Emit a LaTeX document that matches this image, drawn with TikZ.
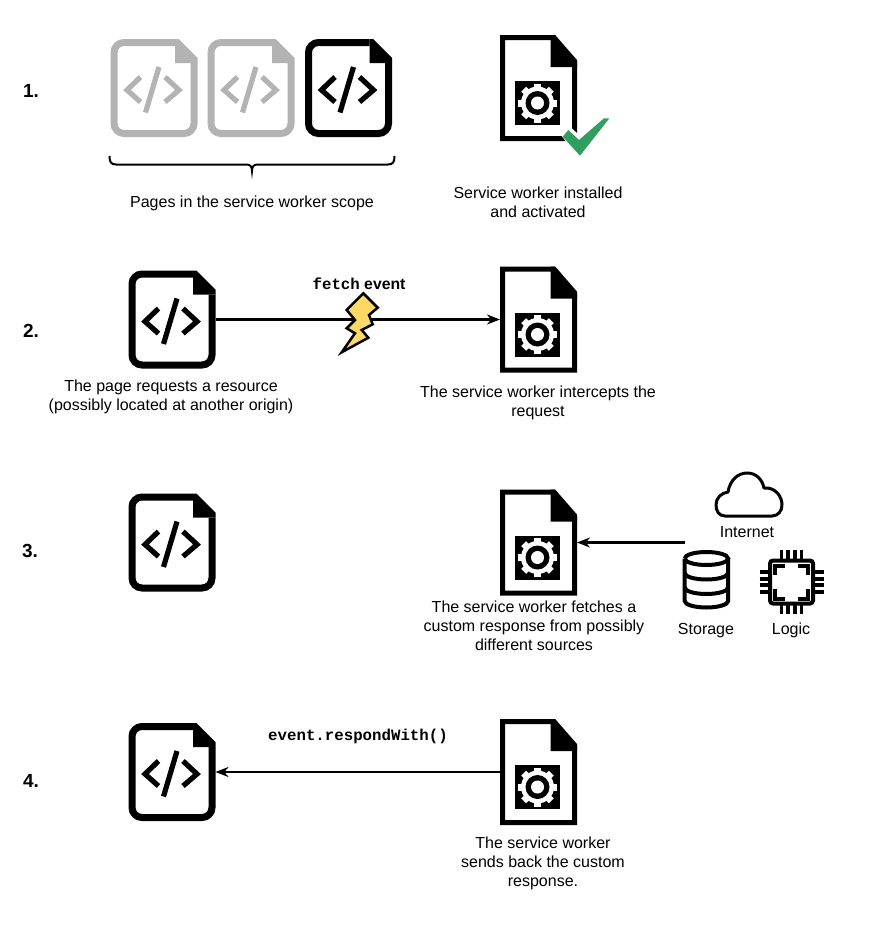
\documentclass[tikz,border=0pt]{standalone}
\usepackage{fontspec}
\setmainfont{Liberation Sans}
\setmonofont{Liberation Mono}
\usetikzlibrary{arrows.meta}
\definecolor{fadegray}{HTML}{B3B3B3}
\definecolor{checkgreen}{HTML}{2F9E5F}
\definecolor{boltyellow}{HTML}{FFD966}
\tikzset{
  caption/.style={align=center,inner sep=0pt,font=\fontsize{16}{19}\selectfont},
  stepnum/.style={inner sep=0pt,font=\bfseries\fontsize{19}{21}\selectfont},
  codetext/.style={inner sep=0pt,font=\bfseries\fontsize{15.75}{18}\selectfont},
  pagebox/.style={minimum width=87pt,minimum height=98pt,inner sep=0pt,outer sep=0pt},
  workerbox/.style={minimum width=77pt,minimum height=106pt,inner sep=0pt,outer sep=0pt},
  flow/.style={line width=2.2pt,-{Stealth[length=13pt,width=10pt]}},
  codepage/.pic={
    \draw[#1,line width=7pt,rounded corners=10pt] (21,-45.5)--(-40,-45.5)--(-40,45.5)--(40,45.5)--(40,-25);
    \fill[#1] (21,-49)--(24.5,-49)--(43.5,-30)--(43.5,-25)--(21,-25)--cycle;
    \draw[#1,line width=5.2pt] (-13.5,-11)--(-27,2)--(-13.5,14) (11,-11)--(25,2)--(11,14);
    \draw[#1,line width=5.2pt] (5,-21)--(-8.5,24.5);
  },
  workerpage/.pic={
    \draw[line width=5pt] (15.5,-50.5)--(-36,-50.5)--(-36,50.5)--(36,50.5)--(36,-27)--cycle;
    \fill (12,-53)--(16,-53)--(38.5,-26)--(38.5,-21)--(12,-21)--cycle;
    \fill (-23.5,-7) rectangle (21.5,37);
    \foreach \a in {0,45,...,315}
      \fill[white,shift={(-1,15)},rotate=\a] (-3.5,-19.5) rectangle (3.5,0);
    \fill[white] (-1,15) circle[radius=16.5pt];
    \fill (-1,15) circle[radius=12pt];
    \fill[white] (-1,15) circle[radius=6.5pt];
  }
}
\begin{document}
\begin{tikzpicture}[x=1pt,y=-1pt]
\path[use as bounding box] (0,0) rectangle (878,929);

% step 1
\node[stepnum] (num1) at (31,91) {1.};
\node[pagebox] (page1a) at (154,88) {};
\node[pagebox] (page1b) at (251,88) {};
\node[pagebox] (page1c) at (348.5,88) {};
\pic at (page1a) {codepage=fadegray};
\pic at (page1b) {codepage=fadegray};
\pic at (page1c) {codepage=black};
\draw[line width=2pt] (109.5,156) .. controls (109.5,162) and (111,164.5) .. (116,164.5) -- (246,164.5) .. controls (250,164.5) and (252,166) .. (252,171) .. controls (252,166) and (254,164.5) .. (258,164.5) -- (388,164.5) .. controls (393,164.5) and (394.5,162) .. (394.5,156);
\node[caption] (scopetext) at (252,203) {Pages in the service worker scope};
\node[workerbox] (worker1) at (538.5,88) {};
\pic at (worker1) {workerpage};
\fill[white] (560,134)--(568.3,125)--(579,135)--(604,113)--(612,116)--(580,159)--cycle;
\fill[checkgreen] (562.7,136.7)--(568.3,130)--(579,140)--(604,118.3)--(609.3,118.3)--(580,155.7)--cycle;
\node[caption] (installtext) at (538,202) {Service worker installed\\and activated};

% step 2
\node[stepnum] (num2) at (31,331) {2.};
\node[pagebox] (page2) at (172,319.5) {};
\pic at (page2) {codepage=black};
\node[workerbox] (worker2) at (538.5,319.5) {};
\pic at (worker2) {workerpage};
\draw[flow] (page2.east)--(worker2.west);
\draw[fill=boltyellow,line width=2.5pt,line join=miter] (363.3,293.3)--(377.7,307.7)--(369,315)--(372.7,324.3)--(361.7,330)--(368.3,337.7)--(341.7,352.3)--(355,333.3)--(346.7,328.3)--(355,320)--(346.7,310)--cycle;
\node[codetext] (fetchtext) at (359,284) {{\ttfamily fetch} event};
\node[caption] (requesttext) at (171,397) {The page requests a resource\\(possibly located at another origin)};
\node[caption] (intercepttext) at (538,403) {The service worker intercepts the\\request};

% step 3
\node[stepnum] (num3) at (30,551) {3.};
\node[pagebox] (page3) at (172,542.5) {};
\pic at (page3) {codepage=black};
\node[workerbox] (worker3) at (538.5,542.5) {};
\pic at (worker3) {workerpage};
\coordinate (source3) at (685,542.5);
\draw[flow] (source3)--(worker3.east);
\draw[line width=3pt,line join=round] (725,516) .. controls (719,516) and (716,511) .. (716,505) .. controls (716,498) and (721,493) .. (728,492) .. controls (730,480) and (738,473) .. (747,473) .. controls (756,473) and (762,479) .. (764,488) .. controls (775,487) and (782,496) .. (782,505) .. controls (782,511) and (778,516) .. (772,516) -- cycle;
\node[caption] (internettext) at (747,532) {Internet};
\draw[line width=4pt] (684.7,558.5) arc[start angle=180,end angle=-180,x radius=21.7,y radius=6.5];
\draw[line width=4pt] (684.7,558.5)--(684.7,601) arc[start angle=180,end angle=0,x radius=21.7,y radius=6.5]--(728.1,558.5);
\draw[line width=4pt] (684.7,573) arc[start angle=180,end angle=0,x radius=21.7,y radius=6.5];
\draw[line width=4pt] (684.7,587.5) arc[start angle=180,end angle=0,x radius=21.7,y radius=6.5];
\node[caption] (storagetext) at (706,630.5) {Storage};
\begin{scope}[shift={(791.5,582)}]
\draw[line width=4pt,rounded corners=3pt] (-21.5,-21.5) rectangle (21.5,21.5);
\foreach \p in {-10,-3.3,3.3,10} {
  \draw[line width=3.7pt] (\p,-32)--(\p,-23) (\p,23)--(\p,32) (-32,\p)--(-23,\p) (23,\p)--(32,\p);
}
\foreach \r in {0,90,180,270}
  \draw[line width=4pt,rotate=\r] (-6.7,-16.5)--(-16.5,-16.5)--(-16.5,-6.7);
\end{scope}
\node[caption] (logictext) at (791,630) {Logic};
\node[caption] (fetchestext) at (534,625.5) {The service worker fetches a\\custom response from possibly\\different sources};

% step 4
\node[stepnum] (num4) at (31,781) {4.};
\node[pagebox] (page4) at (172,772) {};
\pic at (page4) {codepage=black};
\node[workerbox] (worker4) at (538.5,772) {};
\pic at (worker4) {workerpage};
\draw[flow] (worker4.west)--(page4.east);
\node[codetext] (respondtext) at (358,736) {\ttfamily event.respondWith()};
\node[caption] (sendtext) at (543,863.5) {The service worker\\sends back the custom\\response.};
\end{tikzpicture}
\end{document}
